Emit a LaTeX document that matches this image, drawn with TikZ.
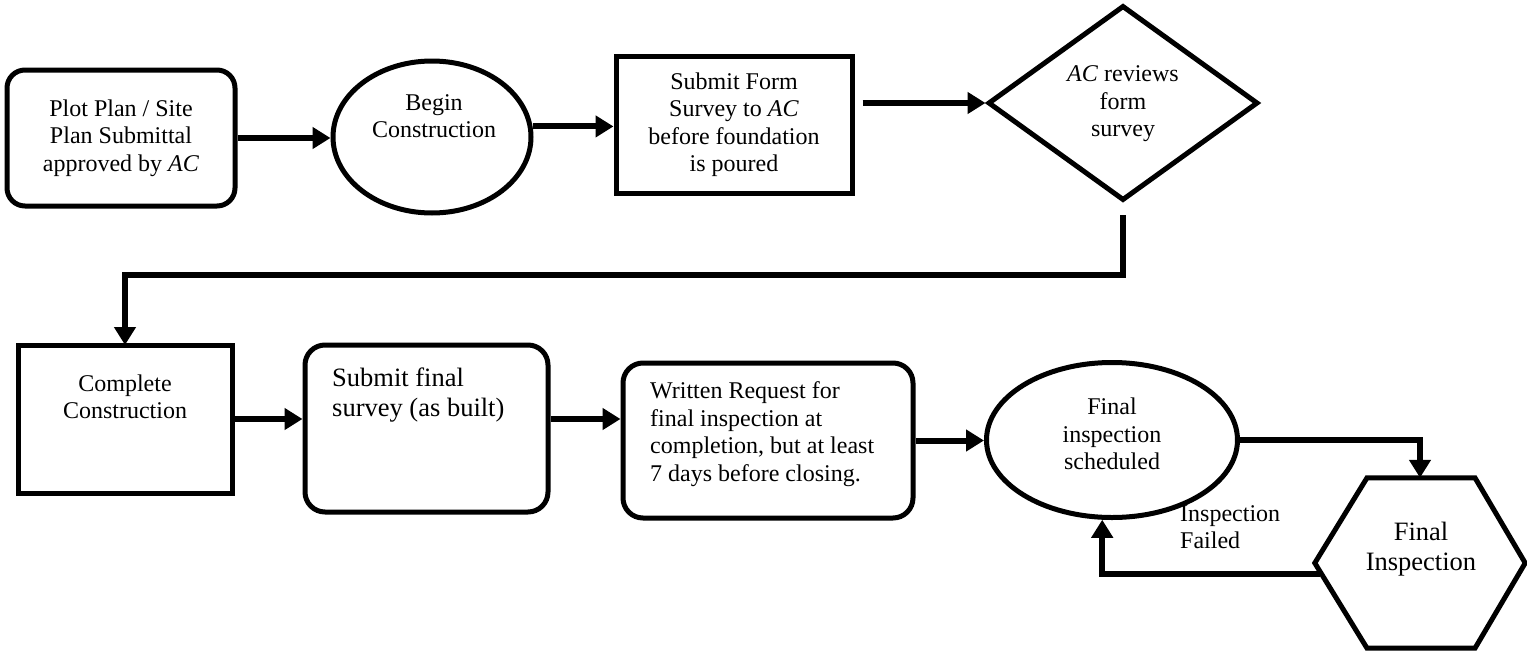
\documentclass[tikz,border=0pt]{standalone}
\usepackage{fontspec}
\setmainfont{Liberation Serif}
\usetikzlibrary{arrows.meta,shapes.geometric}
\begin{document}
\begin{tikzpicture}[x=1pt,y=-1pt,
  box/.style={draw,line width=5pt,inner sep=0pt},
  txt/.style={font=\fontsize{24}{27.5}\selectfont,align=center,inner sep=0pt},
  ltxt/.style={font=\fontsize{24}{27.5}\selectfont,align=left,inner sep=0pt},
  bigtxt/.style={font=\fontsize{26.5}{30.5}\selectfont,align=left,inner sep=0pt},
  conn/.style={line width=6pt,-{Triangle[length=18pt,width=21pt]}}]
\useasboundingbox (0,0) rectangle (1527,651);

% row 1
\node[box,rounded corners=18pt,minimum width=228pt,minimum height=136pt,txt] (plot) at (121,138)
  {Plot Plan / Site\\Plan Submittal\\approved by \textit{AC}};
\node[box,ellipse,minimum width=198pt,minimum height=152pt] (begin) at (432,137) {};
\node[txt] (begintxt) at (434,116) {Begin\\Construction};
\node[box,minimum width=236pt,minimum height=137pt,txt] (form) at (734,124.5)
  {Submit Form\\Survey to \textit{AC}\\before foundation\\is poured};
\node[box,diamond,minimum width=270pt,minimum height=195pt,aspect=1.385] (diam) at (1123,103) {};
\node[txt] (diamtxt) at (1123,104) {\textit{AC} reviews\\form\\survey};

\draw[conn] (plot.east) -- (plot.east -| begin.west);
\draw[conn] (begin.6) -- (begin.6 -| form.west);
\draw[conn,shorten <=8pt] (form.east |- diam.west) -- (diam.west);
\draw[conn,shorten <=12pt] (diam.south) -- ++(0,72) -| (125,345);

% row 2
\node[box,minimum width=214pt,minimum height=148pt] (comp) at (125,419) {};
\node[txt] (comptxt) at (125,397) {Complete\\Construction};
\node[box,rounded corners=20pt,minimum width=243pt,minimum height=167pt] (sfin) at (426.5,428.5) {};
\node[bigtxt,anchor=west] (sfintxt) at (332,395) {Submit final\\survey (as built)};
\node[box,rounded corners=20pt,minimum width=290pt,minimum height=155pt] (writ) at (768,440.5) {};
\node[ltxt,anchor=west] (writtxt) at (650,434)
  {Written Request for\\final inspection at\\completion, but at least\\7 days before closing.};
\node[box,ellipse,minimum width=251pt,minimum height=155pt] (sched) at (1112,440) {};
\node[txt] (schedtxt) at (1112,434) {Final\\inspection\\scheduled};
\node[minimum width=210pt,minimum height=170pt,inner sep=0pt] (hex) at (1420,563) {};
\draw[line width=5pt,line join=miter]
  ([xshift=-53pt]hex.north) -- ([xshift=55pt]hex.north) -- (hex.east)
  -- ([xshift=55pt]hex.south) -- ([xshift=-53pt]hex.south) -- (hex.west) -- cycle;
\node[bigtxt,align=center] (hextxt) at (1421,549) {Final\\Inspection};
\node[ltxt,anchor=west] (fail) at (1180,527) {Inspection\\Failed};
\coordinate (ret) at (1320,574);

\coordinate (a1) at (comp.east);
\draw[conn] (a1) -- (a1 -| sfin.west);
\coordinate (a2) at (sfin.east |- comp.east);
\draw[conn] (a2) -- (a2 -| writ.west);
\draw[conn] (writ.east) -- (writ.east -| sched.west);
\draw[conn] (sched.east) -| (hex.north);
\draw[conn] (ret) -| (sched.263);
\end{tikzpicture}
\end{document}
